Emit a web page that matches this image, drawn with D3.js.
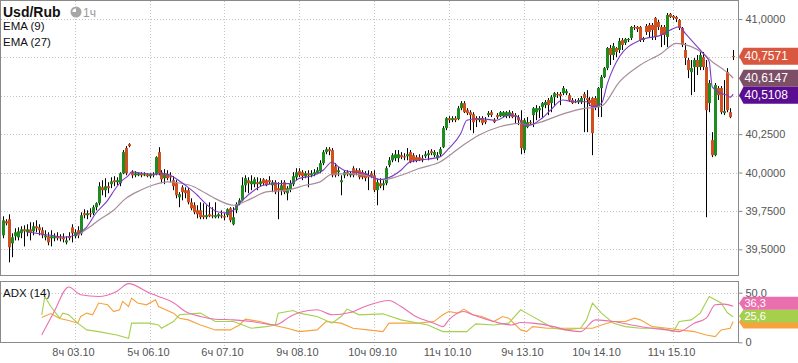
<!DOCTYPE html>
<html>
<head>
<meta charset="utf-8">
<script src="https://cdn.jsdelivr.net/npm/d3@7"></script>
<style>
  html, body { margin: 0; padding: 0; background: #fff; }
  svg { display: block; font-family: "Liberation Sans", Arial, sans-serif; }
</style>
</head>
<body>
<div id="chart"></div>
<script>
// Hourly USD/RUB candles: [open, high, low, close]
const bars = [
  [39.591,39.715,39.572,39.689],[39.683,39.696,39.656,39.669],[39.696,39.728,39.415,39.513],[39.539,39.604,39.448,39.578],
  [39.585,39.637,39.558,39.611],[39.578,39.643,39.558,39.617],[39.604,39.650,39.572,39.630],[39.630,39.656,39.519,39.617],
  [39.611,39.663,39.585,39.630],[39.630,39.676,39.558,39.611],[39.617,39.676,39.591,39.650],[39.650,39.689,39.611,39.637],
  [39.643,39.663,39.591,39.624],[39.624,39.643,39.572,39.591],[39.578,39.624,39.558,39.591],[39.585,39.611,39.526,39.545],
  [39.572,39.624,39.519,39.585],[39.572,39.604,39.552,39.585],[39.585,39.611,39.558,39.572],[39.578,39.598,39.552,39.572],
  [39.578,39.604,39.545,39.565],[39.545,39.585,39.532,39.558],[39.585,39.611,39.558,39.572],[39.643,39.663,39.545,39.604],
  [39.585,39.630,39.572,39.611],[39.624,39.650,39.572,39.591],[39.604,39.741,39.591,39.722],[39.735,39.761,39.702,39.722],
  [39.722,39.754,39.696,39.735],[39.735,39.767,39.709,39.728],[39.735,39.787,39.722,39.774],[39.774,39.806,39.754,39.800],
  [39.800,39.937,39.787,39.911],[39.904,39.950,39.852,39.885],[39.885,39.963,39.839,39.911],[39.911,39.937,39.865,39.898],
  [39.924,39.969,39.898,39.943],[39.950,39.976,39.911,39.937],[39.937,39.969,39.917,39.950],[39.930,40.002,39.911,39.995],
  [39.995,40.146,39.989,40.133],[40.159,40.172,39.982,39.995],[40.185,40.191,40.165,40.172],[40.002,40.015,39.963,39.982],
  [39.982,40.009,39.969,39.995],[39.982,40.002,39.976,39.995],[39.995,40.002,39.969,39.982],[39.982,40.002,39.976,39.989],
  [39.989,39.995,39.969,39.976],[39.976,39.995,39.963,39.989],[39.989,40.002,39.969,39.982],[39.989,40.106,39.982,40.100],
  [40.133,40.165,39.982,39.995],[40.002,40.015,39.930,39.956],[39.963,40.022,39.924,39.989],[39.989,40.015,39.950,39.963],
  [39.976,40.002,39.937,39.969],[39.950,39.976,39.885,39.911],[39.930,39.950,39.832,39.852],[39.839,39.872,39.774,39.859],
  [39.904,39.917,39.819,39.872],[39.885,39.904,39.832,39.865],[39.885,39.898,39.793,39.806],[39.806,39.832,39.754,39.767],
  [39.787,39.806,39.728,39.741],[39.754,39.787,39.702,39.728],[39.754,39.806,39.696,39.709],[39.722,39.800,39.696,39.709],
  [39.709,39.787,39.696,39.722],[39.728,39.806,39.709,39.715],[39.722,39.774,39.702,39.715],[39.709,39.806,39.702,39.722],
  [39.715,39.735,39.702,39.728],[39.722,39.754,39.702,39.715],[39.715,39.735,39.689,39.709],[39.722,39.767,39.709,39.761],
  [39.767,39.774,39.676,39.689],[39.663,39.774,39.656,39.709],[39.754,39.806,39.735,39.793],[39.793,39.832,39.787,39.819],
  [39.819,39.969,39.813,39.917],[39.917,39.982,39.872,39.963],[39.950,39.969,39.865,39.930],[39.924,39.982,39.885,39.943],
  [39.924,39.969,39.904,39.956],[39.937,39.969,39.885,39.924],[39.924,39.963,39.911,39.943],[39.956,39.963,39.917,39.930],
  [39.950,39.956,39.911,39.917],[39.950,39.976,39.924,39.937],[39.917,39.950,39.872,39.937],[39.937,39.950,39.859,39.872],
  [39.898,39.937,39.696,39.885],[39.885,39.950,39.852,39.917],[39.937,39.950,39.859,39.872],[39.865,39.911,39.819,39.898],
  [39.891,39.950,39.872,39.930],[39.924,40.002,39.911,39.976],[39.969,40.028,39.950,40.002],[40.009,40.028,39.969,39.982],
  [40.002,40.015,39.950,39.976],[39.976,40.009,39.963,39.995],[39.995,40.015,39.904,39.982],[39.982,40.015,39.969,39.995],
  [39.989,40.022,39.976,40.002],[39.995,40.035,39.989,40.015],[40.009,40.080,39.995,40.061],[40.061,40.146,40.048,40.133],
  [40.133,40.165,40.119,40.152],[40.152,40.165,40.113,40.139],[40.146,40.159,39.969,39.982],[40.041,40.061,39.969,39.982],
  [40.002,40.035,39.976,40.015],[39.937,39.982,39.852,39.950],[39.982,40.015,39.963,40.002],[40.002,40.015,39.976,39.989],
  [39.982,40.009,39.969,39.995],[40.028,40.041,39.969,39.982],[40.015,40.028,39.982,39.995],[40.015,40.028,39.956,39.969],
  [40.002,40.015,39.956,39.969],[39.995,40.009,39.943,39.963],[39.982,40.015,39.885,39.969],[39.995,40.009,39.963,39.976],
  [39.982,40.015,39.872,39.885],[39.885,39.963,39.787,39.937],[39.930,39.963,39.898,39.911],[39.917,39.950,39.885,39.930],
  [39.930,40.041,39.917,40.028],[40.048,40.100,40.035,40.080],[40.080,40.126,40.067,40.113],[40.093,40.146,40.074,40.119],
  [40.093,40.146,40.067,40.119],[40.113,40.133,40.087,40.100],[40.106,40.126,40.080,40.100],[40.106,40.159,40.080,40.119],
  [40.133,40.146,40.061,40.067],[40.113,40.126,40.067,40.080],[40.100,40.113,40.067,40.080],[40.100,40.119,40.074,40.080],
  [40.093,40.113,40.067,40.080],[40.106,40.139,40.093,40.119],[40.113,40.146,40.080,40.126],[40.139,40.152,40.113,40.126],
  [40.113,40.146,40.100,40.133],[40.093,40.133,40.080,40.113],[40.119,40.165,40.106,40.152],[40.165,40.302,40.159,40.289],
  [40.289,40.361,40.276,40.354],[40.354,40.367,40.322,40.341],[40.341,40.367,40.328,40.354],[40.354,40.367,40.328,40.341],
  [40.348,40.433,40.341,40.419],[40.419,40.465,40.406,40.452],[40.452,40.465,40.387,40.393],[40.406,40.419,40.374,40.387],
  [40.393,40.406,40.276,40.374],[40.380,40.393,40.256,40.328],[40.354,40.367,40.296,40.341],[40.341,40.367,40.328,40.354],
  [40.354,40.367,40.309,40.322],[40.341,40.361,40.315,40.328],[40.374,40.400,40.361,40.387],[40.393,40.406,40.361,40.374],
  [40.341,40.354,40.322,40.328],[40.374,40.387,40.348,40.361],[40.367,40.400,40.361,40.393],[40.367,40.400,40.361,40.393],
  [40.367,40.400,40.354,40.393],[40.367,40.406,40.354,40.393],[40.387,40.400,40.354,40.361],[40.374,40.387,40.322,40.367],
  [40.361,40.374,40.309,40.341],[40.341,40.406,40.119,40.159],[40.146,40.354,40.126,40.341],[40.296,40.361,40.289,40.328],
  [40.328,40.341,40.309,40.322],[40.374,40.426,40.296,40.419],[40.393,40.439,40.341,40.419],[40.406,40.433,40.354,40.419],
  [40.426,40.459,40.354,40.452],[40.439,40.472,40.419,40.459],[40.472,40.485,40.374,40.439],[40.452,40.504,40.393,40.491],
  [40.491,40.524,40.433,40.517],[40.511,40.524,40.485,40.504],[40.511,40.524,40.439,40.498],[40.517,40.563,40.504,40.550],
  [40.517,40.543,40.504,40.530],[40.504,40.517,40.459,40.472],[40.472,40.485,40.446,40.452],[40.465,40.478,40.452,40.459],
  [40.459,40.485,40.446,40.472],[40.459,40.498,40.446,40.485],[40.511,40.524,40.263,40.485],[40.485,40.537,40.263,40.472],
  [40.472,40.491,40.433,40.452],[40.485,40.491,40.113,40.256],[40.485,40.498,40.406,40.426],[40.426,40.557,40.361,40.550],
  [40.550,40.635,40.361,40.622],[40.622,40.687,40.615,40.680],[40.680,40.817,40.667,40.811],[40.811,40.831,40.700,40.765],
  [40.765,40.844,40.733,40.824],[40.811,40.817,40.752,40.785],[40.798,40.876,40.778,40.857],[40.863,40.876,40.798,40.831],
  [40.844,40.876,40.831,40.870],[40.863,40.876,40.850,40.870],[40.876,40.954,40.863,40.948],[40.948,40.961,40.928,40.941],
  [40.948,40.954,40.915,40.935],[40.948,40.954,40.850,40.863],[40.863,40.883,40.850,40.876],[40.954,40.967,40.896,40.915],
  [40.961,40.974,40.883,40.915],[40.961,40.974,40.863,40.928],[41.007,41.013,40.863,40.883],[40.980,40.994,40.928,40.948],
  [40.948,40.961,40.817,40.896],[40.948,40.961,40.831,40.896],[40.883,41.039,40.817,41.026],[41.033,41.039,41.007,41.013],
  [41.020,41.026,40.994,41.007],[41.013,41.020,40.980,41.000],[40.994,41.000,40.928,40.941],[40.941,40.948,40.817,40.831],
  [40.798,40.844,40.700,40.746],[40.733,40.746,40.615,40.667],[40.654,40.733,40.504,40.680],[40.687,40.746,40.524,40.733],
  [40.733,40.765,40.635,40.687],[40.687,40.785,40.667,40.765],[40.752,40.785,40.667,40.687],[40.687,40.733,39.709,40.406],
  [40.452,40.602,40.393,40.583],[40.211,40.263,40.100,40.113],[40.113,40.583,40.106,40.570],[40.550,40.563,40.472,40.504],
  [40.550,40.563,40.380,40.393],[40.387,40.602,40.374,40.400],[40.654,40.680,40.393,40.406],[40.393,40.419,40.354,40.361],
  [40.759,40.798,40.733,40.7571]
];

// EMA lines sampled along the bars: [bar index, value]
const ema9 = [
  [8,39.613],[12,39.602],[16,39.591],[21,39.580],[25,39.602],[28,39.645],[31,39.733],[35,39.819],[38,39.906],
  [40,39.950],[42,39.982],[43,40.004],[46,39.997],[51,39.989],[54,39.993],[57,39.971],[59,39.945],[61,39.917],
  [65,39.852],[66,39.831],[69,39.776],[72,39.743],[75,39.737],[77,39.754],[80,39.819],[84,39.885],[87,39.917],
  [91,39.928],[96,39.928],[99,39.961],[104,39.982],[107,40.015],[110,40.069],[112,40.040],[114,40.015],[117,40.004],
  [121,39.993],[126,39.954],[129,39.967],[133,40.015],[136,40.069],[139,40.080],[146,40.102],[149,40.157],[153,40.254],
  [155,40.341],[159,40.352],[165,40.341],[169,40.374],[172,40.363],[174,40.309],[176,40.309],[180,40.352],[183,40.406],
  [187,40.472],[191,40.461],[195,40.461],[197,40.428],[200,40.450],[202,40.581],[206,40.754],[213,40.863],[220,40.896],
  [223,40.928],[226,40.950],[228,40.907],[231,40.841],[234,40.776],[236,40.722],[237,40.558],[240,40.515],[242,40.504],
  [243,40.490],[244,40.5108]
];
const ema27 = [
  [25,39.591],[29,39.645],[32,39.689],[37,39.754],[41,39.830],[46,39.885],[50,39.917],[55,39.939],[59,39.932],
  [64,39.906],[66,39.885],[71,39.830],[77,39.787],[83,39.830],[88,39.874],[95,39.885],[101,39.917],[106,39.939],
  [110,39.989],[116,39.993],[121,39.982],[127,39.954],[133,39.982],[139,40.026],[146,40.069],[153,40.167],[159,40.243],
  [166,40.298],[173,40.320],[175,40.309],[180,40.330],[186,40.374],[193,40.413],[200,40.433],[206,40.591],[213,40.700],
  [220,40.776],[225,40.841],[230,40.820],[234,40.776],[237,40.722],[241,40.667],[243,40.635],[244,40.6147]
];

// ADX(14) panel: [bar index, value]
const adxLine = [
  [13,7.4],[17,30.0],[22,55.8],[26,48.0],[32,46.2],[38,51.3],[42,59.1],[49,49.7],[52,46.2],[57,39.9],[61,31.0],
  [66,26.0],[71,23.3],[77,22.6],[83,20.9],[88,18.6],[91,17.5],[96,26.0],[99,30.0],[105,32.8],[110,27.7],[116,30.0],
  [121,36.1],[129,42.2],[133,36.1],[138,26.0],[144,19.3],[147,15.8],[149,22.6],[154,31.0],[157,27.7],[164,20.9],
  [170,17.5],[173,19.9],[177,19.3],[184,15.8],[188,12.5],[193,10.8],[198,22.6],[204,20.9],[210,17.5],[217,14.2],
  [222,12.5],[226,10.8],[231,19.3],[235,24.3],[238,37.8],[241,38.5],[244,36.3]
];
const plusDI = [
  [13,27.7],[14,46.2],[16,36.1],[19,24.3],[20,29.4],[22,27.7],[25,19.3],[28,12.5],[32,10.8],[38,7.4],[42,4.1],
  [43,19.3],[49,19.3],[52,17.5],[53,14.2],[57,20.9],[59,27.7],[66,29.4],[71,20.9],[77,20.9],[83,14.2],[88,15.8],
  [91,17.5],[92,29.4],[97,32.0],[99,29.4],[105,26.0],[110,19.3],[113,26.0],[115,33.5],[119,27.7],[127,28.7],
  [133,22.6],[142,17.5],[147,10.8],[155,10.8],[158,18.6],[164,17.5],[169,19.3],[173,32.8],[175,29.4],[181,19.3],
  [184,14.2],[188,12.5],[193,14.2],[195,22.6],[197,39.6],[200,29.4],[204,19.3],[208,15.8],[213,14.2],[220,14.2],
  [224,10.8],[226,20.9],[230,22.6],[233,29.4],[236,46.2],[238,42.9],[240,39.6],[242,30.0],[244,25.6]
];
const minusDI = [
  [13,25.0],[16,29.0],[19,24.0],[22,22.0],[25,19.3],[26,26.0],[28,29.4],[30,27.7],[32,39.6],[35,37.8],[37,31.0],
  [39,32.8],[40,41.2],[42,36.1],[43,44.6],[45,39.6],[48,37.8],[51,42.9],[52,36.1],[57,29.4],[59,24.3],[62,22.6],
  [66,17.5],[71,12.5],[76,12.5],[79,17.5],[81,23.3],[86,20.9],[90,17.5],[95,14.2],[99,10.8],[105,12.5],[108,20.9],
  [113,19.3],[117,14.2],[122,12.5],[127,10.8],[129,19.3],[133,19.3],[139,19.3],[144,20.9],[147,27.7],[149,31.0],
  [152,29.4],[154,33.5],[157,27.7],[160,26.0],[164,20.9],[167,26.0],[169,24.3],[173,12.5],[175,10.8],[177,15.8],
  [182,14.2],[189,14.2],[197,14.2],[200,17.5],[204,20.9],[208,20.9],[211,24.3],[213,22.6],[217,15.8],[222,14.2],
  [226,12.5],[231,10.8],[235,7.4],[238,5.7],[240,12.5],[243,14.2],[244,20.9]
];

const priceTicks = [39.5, 39.75, 40, 40.25, 40.5, 40.75, 41];
const adxTicks = [0, 50];
const timeTickBars = [24, 49, 74, 99, 124, 149, 174, 199, 224];
const timeTickLabels = ['8ч 03.10', '5ч 06.10', '6ч 07.10', '9ч 08.10', '10ч 09.10', '11ч 10.10', '9ч 13.10', '10ч 14.10', '11ч 15.10'];

const W = 798, H = 363;
const plotLeft = 0.5, plotRight = 738.5;
const mainTop = 0.5, mainBottom = 275.5;
const subTop = 281.5, subBottom = 342.5;

const colors = {
  up: '#1f8c1f', down: '#d0501f', wick: '#000',
  ema9: '#7d3cc4', ema27: '#a88c9c',
  adx: '#ea6fae', plus: '#a6d04c', minus: '#f7a23c',
  frame: '#8a8a8a', grid: '#c4c4c4', text: '#555'
};

// Scales
const x = d3.scaleLinear().domain([24, 224]).range([74.7, 673.3]);
const y = d3.scaleLinear().domain([39.5, 41]).range([249.3, 19]);
const ya = d3.scaleLinear().domain([0, 50]).range([342.3, 292.7]);
const px = i => Math.round(x(i));

const svg = d3.select('#chart').append('svg')
  .attr('width', W).attr('height', H)
  .attr('viewBox', `0 0 ${W} ${H}`);

const defs = svg.append('defs');
defs.append('clipPath').attr('id', 'clipMain').append('rect')
  .attr('x', 1).attr('y', 1).attr('width', plotRight - 1.5).attr('height', mainBottom - 1.5);
defs.append('clipPath').attr('id', 'clipSub').append('rect')
  .attr('x', 1).attr('y', subTop + 0.5).attr('width', plotRight - 1.5).attr('height', subBottom - subTop - 1);

// Last-value tags for the price panel (positions worked out first so the axis can skip covered labels)
const priceTags = [
  { value: 40.7571, color: '#d9573e' },
  { value: 40.6147, color: '#7c4f66' },
  { value: 40.5108, color: '#5a0c92' }
];
const tagH = 17;
let lastBottom = -Infinity;
priceTags.forEach(t => {
  let cy = y(t.value);
  if (cy - tagH / 2 < lastBottom) cy = lastBottom + tagH / 2;
  lastBottom = cy + tagH / 2;
  t.cy = cy;
});
const coveredByTag = v => priceTags.some(t => Math.abs(y(v) - t.cy) < tagH / 2 + 5);

// Grid
const grid = svg.append('g')
  .attr('stroke', colors.grid)
  .attr('stroke-dasharray', '1,2')
  .attr('shape-rendering', 'crispEdges');

grid.selectAll('.hgrid').data(priceTicks).join('line')
  .attr('x1', plotLeft).attr('x2', plotRight)
  .attr('y1', d => Math.round(y(d)) + 0.5).attr('y2', d => Math.round(y(d)) + 0.5);

grid.selectAll('.vgrid').data(timeTickBars).join('line')
  .attr('x1', d => px(d) + 0.5).attr('x2', d => px(d) + 0.5)
  .attr('y1', mainTop).attr('y2', mainBottom);

grid.selectAll('.vgrid2').data(timeTickBars).join('line')
  .attr('x1', d => px(d) + 0.5).attr('x2', d => px(d) + 0.5)
  .attr('y1', subTop).attr('y2', subBottom + 5);

grid.append('line')
  .attr('x1', plotLeft).attr('x2', plotRight)
  .attr('y1', Math.round(ya(50)) + 0.5).attr('y2', Math.round(ya(50)) + 0.5);

// Candles
const candles = svg.append('g').attr('clip-path', 'url(#clipMain)');

candles.selectAll('.wick').data(bars).join('line')
  .attr('x1', (d, i) => px(i) + 0.5).attr('x2', (d, i) => px(i) + 0.5)
  .attr('y1', d => y(d[1])).attr('y2', d => y(d[2]))
  .attr('stroke', colors.wick).attr('stroke-width', 1);

candles.selectAll('.body').data(bars).join('rect')
  .attr('x', (d, i) => px(i) - 1)
  .attr('width', 3)
  .attr('y', d => y(Math.max(d[0], d[3])))
  .attr('height', d => Math.max(1.2, Math.abs(y(d[0]) - y(d[3]))))
  .attr('fill', d => d[3] >= d[0] ? colors.up : colors.down);

// EMA lines
const priceLine = d3.line()
  .x(d => x(d[0]))
  .y(d => y(d[1]))
  .curve(d3.curveMonotoneX);

candles.append('path').datum(ema27)
  .attr('d', priceLine).attr('fill', 'none')
  .attr('stroke', colors.ema27).attr('stroke-width', 1.2);

candles.append('path').datum(ema9)
  .attr('d', priceLine).attr('fill', 'none')
  .attr('stroke', colors.ema9).attr('stroke-width', 1.1);

// ADX panel lines
const sub = svg.append('g').attr('clip-path', 'url(#clipSub)');
const adxPath = d3.line().x(d => x(d[0])).y(d => ya(d[1]));

sub.append('path').datum(minusDI).attr('d', adxPath)
  .attr('fill', 'none').attr('stroke', colors.minus).attr('stroke-width', 1.1);
sub.append('path').datum(plusDI).attr('d', adxPath)
  .attr('fill', 'none').attr('stroke', colors.plus).attr('stroke-width', 1.1);
sub.append('path').datum(adxLine).attr('d', adxPath.curve(d3.curveMonotoneX))
  .attr('fill', 'none').attr('stroke', colors.adx).attr('stroke-width', 1.1);

// Frames
const frames = svg.append('g')
  .attr('fill', 'none').attr('stroke', colors.frame)
  .attr('shape-rendering', 'crispEdges');
frames.append('rect')
  .attr('x', plotLeft).attr('y', mainTop)
  .attr('width', plotRight - plotLeft).attr('height', mainBottom - mainTop);
frames.append('rect')
  .attr('x', plotLeft).attr('y', subTop)
  .attr('width', plotRight - plotLeft).attr('height', subBottom - subTop);

// Right axes (labels hidden behind a last-value tag are not drawn)
const priceAxis = d3.axisRight(y)
  .tickValues(priceTicks)
  .tickSize(4)
  .tickPadding(3)
  .tickFormat(d => coveredByTag(d) ? '' : d3.format('.4f')(d).replace('.', ','));

const pa = svg.append('g')
  .attr('transform', `translate(${plotRight},0)`)
  .call(priceAxis);
pa.select('.domain').remove();
pa.selectAll('line').attr('stroke', colors.frame);
pa.selectAll('text').attr('fill', colors.text).attr('font-size', 11)
  .attr('font-family', '"Liberation Sans", Arial, sans-serif');

const adxAxis = d3.axisRight(ya)
  .tickValues(adxTicks)
  .tickSize(4)
  .tickPadding(3)
  .tickFormat(d => d === 0 ? '0' : d3.format('.1f')(d));

const aa = svg.append('g')
  .attr('transform', `translate(${plotRight},0)`)
  .call(adxAxis);
aa.select('.domain').remove();
aa.selectAll('line').attr('stroke', colors.frame);
aa.selectAll('text').attr('fill', colors.text).attr('font-size', 11)
  .attr('font-family', '"Liberation Sans", Arial, sans-serif');

// Time labels
svg.append('g').selectAll('text').data(timeTickBars).join('text')
  .attr('x', d => px(d) - 1.5)
  .attr('y', 356)
  .attr('text-anchor', 'middle')
  .attr('font-size', 11)
  .attr('fill', colors.text)
  .text((d, i) => timeTickLabels[i]);

// Last-value tags
function tag(cy, h, color, label, fontSize) {
  const x0 = plotRight + 0.5, x1 = plotRight + 5, x2 = W;
  const g = svg.append('g');
  g.append('path')
    .attr('d', `M${x0},${cy} L${x1},${cy - h / 2} L${x2},${cy - h / 2} L${x2},${cy + h / 2} L${x1},${cy + h / 2} Z`)
    .attr('fill', color);
  if (label) {
    g.append('text')
      .attr('x', x1 + 1).attr('y', cy + 4)
      .attr('font-size', fontSize).attr('fill', '#fff')
      .text(label);
  }
}

priceTags.forEach(t => {
  tag(t.cy, tagH, t.color, d3.format('.4f')(t.value).replace('.', ','), 12);
});

// ADX tags (orange sits under green)
tag(ya(20.9) + 0.5, 13, colors.minus, '', 11);
tag(ya(25.6) - 1, 13, colors.plus, '25,6', 11);
tag(ya(36.3) - 3, 13, colors.adx, '36,3', 11);

// Header
svg.append('text')
  .attr('x', 3).attr('y', 17)
  .attr('font-size', 14).attr('font-weight', 'bold').attr('fill', '#111')
  .text('Usd/Rub');

const clock = svg.append('g').attr('transform', 'translate(76,12)');
clock.append('circle').attr('r', 5.5).attr('fill', '#a6a6a6');
clock.append('path')
  .attr('d', d3.arc()({ innerRadius: 0, outerRadius: 3.6, startAngle: -Math.PI / 2, endAngle: 0 }))
  .attr('fill', '#fff');

svg.append('text')
  .attr('x', 83).attr('y', 16.5)
  .attr('font-size', 12).attr('fill', '#9a9a9a')
  .text('1ч');

svg.append('text').attr('x', 3).attr('y', 30).attr('font-size', 11.5).attr('fill', '#111').text('EMA (9)');
svg.append('text').attr('x', 3).attr('y', 46).attr('font-size', 11.5).attr('fill', '#111').text('EMA (27)');
svg.append('text').attr('x', 3).attr('y', 297).attr('font-size', 11.5).attr('fill', '#111').text('ADX (14)');
</script>
</body>
</html>
